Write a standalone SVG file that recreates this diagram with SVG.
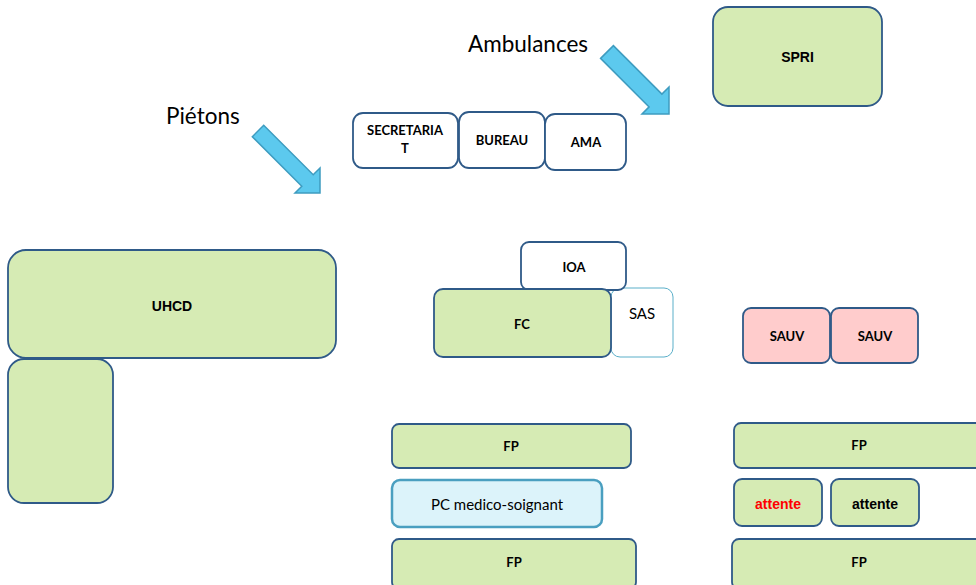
<svg xmlns="http://www.w3.org/2000/svg" width="976" height="585" viewBox="0 0 976 585">
<style>
.g{fill:#D6EBB4;stroke:#2F5A88;stroke-width:1.8}
.w{fill:#FFFFFF;stroke:#2F5A88;stroke-width:1.8}
.p{fill:#FFCCCC;stroke:#2F5A88;stroke-width:1.8}
.sas{fill:#FFFFFF;stroke:#5AAFC9;stroke-width:1}
.pc{fill:#DCF3FA;stroke:#4A9FC0;stroke-width:2.5}
.arr{fill:#5CC9EE;stroke:#3E9CC0;stroke-width:1.5;stroke-linejoin:miter}
text{font-family:"Lato","Open Sans","Liberation Sans",sans-serif;text-anchor:middle;fill:#000}
.b{font-weight:bold;font-size:13px}
.a{font-family:"Liberation Sans",Arial,sans-serif;font-weight:bold;font-size:14px}
.r{font-size:15px}
.big{font-family:"Lato","Liberation Sans",sans-serif;font-size:22.5px;text-anchor:start}
</style>
<g id="label-pietons"><text class="big" x="166" y="124">Piétons</text></g>
<g id="label-ambulances"><text class="big" x="468" y="52">Ambulances</text></g>
<g id="connectors">
<polygon class="arr" points="252.3,136.7 263.7,125.3 313.2,174.8 320,168 320,193 295,193 301.8,186.2"/>
<polygon class="arr" points="600.6,58.4 613.4,45.6 661.9,94.1 669,87 669,114 642,114 649.1,106.9"/>
</g>
<g id="spri"><rect class="g" x="713" y="7" width="169" height="99" rx="15"/><text class="a" x="797.5" y="62">SPRI</text></g>
<g id="secretariat"><rect class="w" x="353" y="113" width="105" height="55" rx="10"/><text class="b" x="405" y="135">SECRETARIA</text><text class="b" x="405" y="153">T</text></g>
<g id="bureau"><rect class="w" x="459" y="112" width="86" height="56" rx="10"/><text class="b" x="502" y="145">BUREAU</text></g>
<g id="ama"><rect class="w" x="545" y="114" width="81" height="56" rx="10"/><text class="b" x="586" y="147">AMA</text></g>
<g id="uhcd"><rect class="g" x="8" y="250" width="328" height="108" rx="18"/><text class="a" x="172" y="311">UHCD</text></g>
<g id="uhcd-annex"><rect class="g" x="8" y="359" width="105" height="144" rx="16"/></g>
<g id="sas"><rect class="sas" x="611" y="288" width="62" height="69" rx="9"/><text class="r" x="642" y="319">SAS</text></g>
<g id="ioa"><rect class="w" x="521" y="242" width="105" height="48" rx="8"/><text class="b" x="574" y="272">IOA</text></g>
<g id="fc"><rect class="g" x="434" y="289" width="177" height="68" rx="9"/><text class="b" x="522" y="329">FC</text></g>
<g id="sauv1"><rect class="p" x="743" y="308" width="87" height="55" rx="8"/><text class="b" x="787" y="341">SAUV</text></g>
<g id="sauv2"><rect class="p" x="831" y="308" width="87" height="55" rx="8"/><text class="b" x="875" y="341">SAUV</text></g>
<g id="fp1"><rect class="g" x="392" y="424" width="239" height="44" rx="7"/><text class="b" x="511" y="451">FP</text></g>
<g id="pc"><rect class="pc" x="392" y="480" width="210" height="47" rx="8"/><text class="r" x="497" y="510">PC medico-soignant</text></g>
<g id="fp2"><rect class="g" x="392" y="539" width="244" height="50" rx="7"/><text class="b" x="514" y="567">FP</text></g>
<g id="fp3"><rect class="g" x="734" y="423" width="250" height="45" rx="7"/><text class="b" x="859" y="450">FP</text></g>
<g id="attente1"><rect class="g" x="734" y="479" width="88" height="47" rx="8"/><text class="a" x="778" y="509" style="fill:#FF0000">attente</text></g>
<g id="attente2"><rect class="g" x="831" y="479" width="88" height="47" rx="8"/><text class="a" x="875" y="509">attente</text></g>
<g id="fp4"><rect class="g" x="732" y="539" width="252" height="50" rx="7"/><text class="b" x="859" y="567">FP</text></g>
</svg>
